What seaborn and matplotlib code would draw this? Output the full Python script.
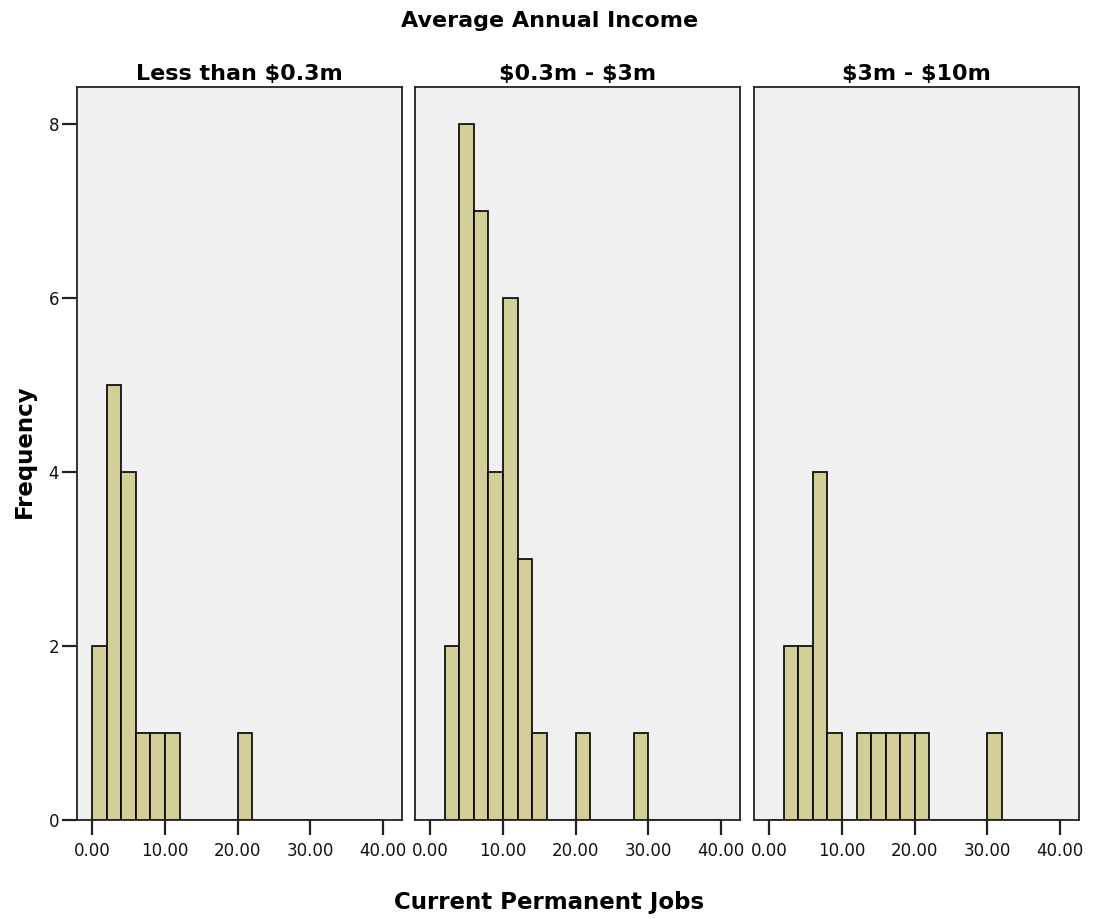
import numpy as np
import pandas as pd
import matplotlib
matplotlib.use("Agg")
import matplotlib.pyplot as plt
import seaborn as sns

# Income groups (panels)
groups = ["Less than $0.3m", "$0.3m - $3m", "$3m - $10m"]

# Histogram bins for Current Permanent Jobs (width 2, from 0 to 40)
bin_width = 2
bin_range = (0, 40)

# Bin left edges and counts per income group
low_left = [0, 2, 4, 6, 8, 10, 20]
low_count = [2, 5, 4, 1, 1, 1, 1]

mid_left = [2, 4, 6, 8, 10, 12, 14, 20, 28]
mid_count = [2, 8, 7, 4, 6, 3, 1, 1, 1]

high_left = [2, 4, 6, 8, 12, 14, 16, 18, 20, 30]
high_count = [2, 2, 4, 1, 1, 1, 1, 1, 1, 1]

x_ticks = [0, 10, 20, 30, 40]
y_ticks = [0, 2, 4, 6, 8]

frames = []
for g, lefts, counts in [(groups[0], low_left, low_count),
                         (groups[1], mid_left, mid_count),
                         (groups[2], high_left, high_count)]:
    frames.append(pd.DataFrame({"group": g,
                                "jobs": np.array(lefts, dtype=float) + 1.0,
                                "n": np.array(counts, dtype=float)}))
df = pd.concat(frames, ignore_index=True)

sns.set_theme(style="white")
plt.rcParams["font.family"] = ["DejaVu Sans"]
plt.rcParams["text.color"] = "black"
plt.rcParams["xtick.color"] = "#222222"
plt.rcParams["ytick.color"] = "#222222"
plt.rcParams["xtick.labelcolor"] = "#111111"
plt.rcParams["ytick.labelcolor"] = "#111111"

fig = plt.figure(figsize=(10.99, 9.19), dpi=100)
W, H = 1099, 919
lefts_px = [77, 415, 754]
width_px = 325
bottom_px = 820
top_px = 87

bar_color = "#d3ce97"
bg = "#f0f0f0"

for i, g in enumerate(groups):
    ax = fig.add_axes([lefts_px[i] / W, (H - bottom_px) / H,
                       width_px / W, (bottom_px - top_px) / H])
    ax.set_facecolor(bg)
    sub = df[df["group"] == g].reset_index(drop=True)
    sns.histplot(data=sub, x="jobs", weights="n", binwidth=bin_width,
                 binrange=bin_range, color=bar_color, edgecolor="black",
                 linewidth=1.2, alpha=1.0, ax=ax)
    ax.set_xlim(-2.1, 42.6)
    ax.set_ylim(0, 8.43)
    ax.set_xticks(x_ticks)
    ax.set_xticklabels([f"{t:.2f}" for t in x_ticks], fontsize=12)
    ax.set_xlabel("")
    ax.set_ylabel("")
    for s in ax.spines.values():
        s.set_color("#222222")
        s.set_linewidth(1.3)
    ax.tick_params(axis="x", direction="out", length=11, width=1.6,
                   pad=5, bottom=True)
    if i == 0:
        ax.set_yticks(y_ticks)
        ax.set_yticklabels([str(t) for t in y_ticks], fontsize=12)
        ax.tick_params(axis="y", direction="out", length=11, width=1.6,
                       left=True, pad=2)
    else:
        ax.set_yticks([])
    ax.set_title(g.replace("$", r"\$"), fontsize=16, fontweight="bold",
                 pad=5)

fig.text(0.5, 1 - 21 / H, "Average Annual Income", ha="center",
         va="center", fontsize=16, fontweight="bold")
fig.text(0.5, 1 - 902 / H, "Current Permanent Jobs", ha="center",
         va="center", fontsize=16.5, fontweight="bold")
fig.text(24 / W, 1 - 451 / H, "Frequency", ha="center", va="center",
         rotation=90, fontsize=16.5, fontweight="bold")

fig.savefig("out.png", dpi=100, facecolor="white")
